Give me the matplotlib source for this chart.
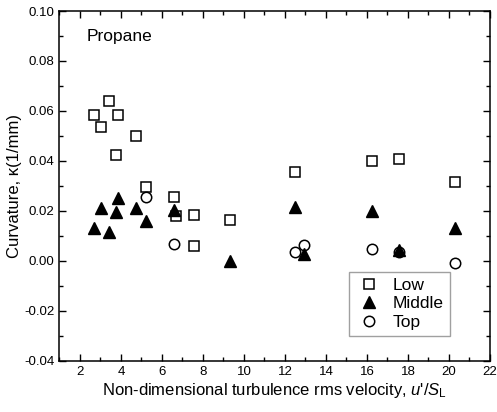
import matplotlib
matplotlib.use('Agg')
import matplotlib.pyplot as plt
from matplotlib.ticker import MultipleLocator, FormatStrFormatter

plt.rcParams['font.family'] = ['Liberation Sans', 'DejaVu Sans']
plt.rcParams['mathtext.fontset'] = 'custom'
plt.rcParams['mathtext.it'] = 'Liberation Sans:italic'
plt.rcParams['mathtext.rm'] = 'Liberation Sans'

# curvature at the three flame heights vs u'/S_L
low_x = [2.67, 3.40, 3.04, 3.85, 3.74, 4.73, 5.20, 6.57, 6.67, 7.58, 7.58, 9.30, 12.5, 16.24, 17.55, 20.3]
low_y = [0.0585, 0.0639, 0.0535, 0.0585, 0.0425, 0.0501, 0.0297, 0.0255, 0.0181, 0.0184, 0.0060, 0.0164,
         0.0356, 0.0400, 0.0407, 0.0317]

mid_x = [2.67, 3.04, 3.40, 3.76, 3.85, 4.73, 5.22, 6.57, 9.30, 12.5, 12.91, 16.24, 17.55, 20.3]
mid_y = [0.0131, 0.0211, 0.0115, 0.0197, 0.0251, 0.0211, 0.0161, 0.0204, 0.0000, 0.0217, 0.0027,
         0.0201, 0.0042, 0.0131]

top_x = [5.20, 6.57, 12.5, 12.91, 16.24, 17.55, 20.3]
top_y = [0.0255, 0.0067, 0.0037, 0.0064, 0.0047, 0.0035, -0.0009]

fig = plt.figure(figsize=(4.97, 4.12), dpi=100)
ax = fig.add_axes([0.1197, 0.1238, 0.8662, 0.8495])

ax.plot(low_x, low_y, 's', ms=6.5, mfc='white', mec='black', mew=1.1, label='Low', linestyle='none')
ax.plot(mid_x, mid_y, '^', ms=8.5, mfc='black', mec='black', label='Middle', linestyle='none')
ax.plot(top_x, top_y, 'o', ms=7.5, mfc='none', mec='black', mew=1.1, label='Top', linestyle='none')

ax.set_xlim(1, 22)
ax.set_ylim(-0.04, 0.10)
ax.xaxis.set_major_locator(MultipleLocator(2))
ax.xaxis.set_minor_locator(MultipleLocator(1))
ax.yaxis.set_major_locator(MultipleLocator(0.02))
ax.yaxis.set_minor_locator(MultipleLocator(0.01))
ax.yaxis.set_major_formatter(FormatStrFormatter('%.2f'))
ax.tick_params(which='both', direction='in', top=True, right=True, labelsize=9.5)
ax.tick_params(which='major', length=5, width=1)
ax.tick_params(which='minor', length=3, width=1)
for s in ax.spines.values():
    s.set_linewidth(1.1)

ax.set_xlabel("Non-dimensional turbulence rms velocity, $u$'/$S_{\\mathrm{L}}$", fontsize=12, labelpad=2)
ax.set_ylabel('Curvature, \u03ba(1/mm)', fontsize=12, labelpad=2)
ax.text(2.3, 0.0896, 'Propane', fontsize=12.5, va='center')

leg = ax.legend(loc='lower left', bbox_to_anchor=(0.672, 0.071), borderaxespad=0, fontsize=12.5,
                frameon=True, fancybox=False, edgecolor='#888888', handletextpad=0.6, borderpad=0.35,
                labelspacing=0.2, handlelength=1.6)
leg.get_frame().set_linewidth(1.0)

fig.savefig('out.png', dpi=100)
